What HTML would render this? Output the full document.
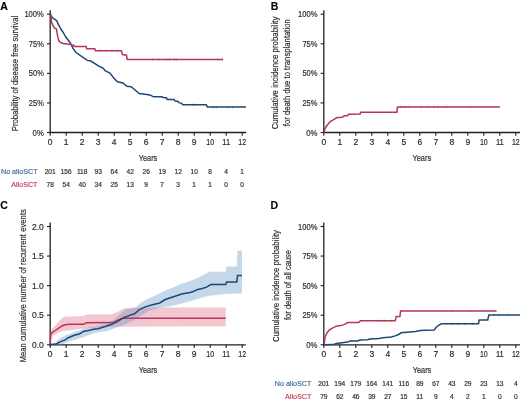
<!DOCTYPE html><html><head><meta charset="utf-8"><style>
html,body{margin:0;padding:0;background:#fff;width:520px;height:401px;overflow:hidden}
svg{display:block;will-change:transform}
text{font-family:"Liberation Sans",sans-serif;fill:#2a2a2a;stroke:#2a2a2a;stroke-width:0.18px}
.tk{font-size:8.5px}
.pl{font-size:10.5px;font-weight:bold;fill:#000}
.yr{font-size:9.2px}
.yt{font-size:9.3px}
.rt{font-size:6.6px;fill:#333}
.lb{font-size:7.3px}
</style></head><body>
<svg width="520" height="401" viewBox="0 0 520 401">
<text x="0.3" y="9.8" class="pl">A</text>
<text x="270.8" y="9.8" class="pl">B</text>
<text x="0.3" y="208.5" class="pl">C</text>
<text x="270.5" y="208.5" class="pl">D</text>
<line x1="50.2" y1="10.2" x2="50.2" y2="133.1" stroke="#231f20" stroke-width="1.3"/>
<line x1="49.6" y1="132.5" x2="246.2" y2="132.5" stroke="#231f20" stroke-width="1.3"/>
<line x1="47.0" y1="14.2" x2="50.2" y2="14.2" stroke="#231f20" stroke-width="1.1"/>
<line x1="47.0" y1="43.775" x2="50.2" y2="43.775" stroke="#231f20" stroke-width="1.1"/>
<line x1="47.0" y1="73.35" x2="50.2" y2="73.35" stroke="#231f20" stroke-width="1.1"/>
<line x1="47.0" y1="102.925" x2="50.2" y2="102.925" stroke="#231f20" stroke-width="1.1"/>
<line x1="47.0" y1="132.5" x2="50.2" y2="132.5" stroke="#231f20" stroke-width="1.1"/>
<line x1="50.2" y1="132.5" x2="50.2" y2="135.7" stroke="#231f20" stroke-width="1.1"/>
<text x="50.2" y="144.9" class="tk" text-anchor="middle">0</text>
<line x1="66.2" y1="132.5" x2="66.2" y2="135.7" stroke="#231f20" stroke-width="1.1"/>
<text x="66.2" y="144.9" class="tk" text-anchor="middle">1</text>
<line x1="82.2" y1="132.5" x2="82.2" y2="135.7" stroke="#231f20" stroke-width="1.1"/>
<text x="82.2" y="144.9" class="tk" text-anchor="middle">2</text>
<line x1="98.2" y1="132.5" x2="98.2" y2="135.7" stroke="#231f20" stroke-width="1.1"/>
<text x="98.2" y="144.9" class="tk" text-anchor="middle">3</text>
<line x1="114.2" y1="132.5" x2="114.2" y2="135.7" stroke="#231f20" stroke-width="1.1"/>
<text x="114.2" y="144.9" class="tk" text-anchor="middle">4</text>
<line x1="130.2" y1="132.5" x2="130.2" y2="135.7" stroke="#231f20" stroke-width="1.1"/>
<text x="130.2" y="144.9" class="tk" text-anchor="middle">5</text>
<line x1="146.2" y1="132.5" x2="146.2" y2="135.7" stroke="#231f20" stroke-width="1.1"/>
<text x="146.2" y="144.9" class="tk" text-anchor="middle">6</text>
<line x1="162.2" y1="132.5" x2="162.2" y2="135.7" stroke="#231f20" stroke-width="1.1"/>
<text x="162.2" y="144.9" class="tk" text-anchor="middle">7</text>
<line x1="178.2" y1="132.5" x2="178.2" y2="135.7" stroke="#231f20" stroke-width="1.1"/>
<text x="178.2" y="144.9" class="tk" text-anchor="middle">8</text>
<line x1="194.2" y1="132.5" x2="194.2" y2="135.7" stroke="#231f20" stroke-width="1.1"/>
<text x="194.2" y="144.9" class="tk" text-anchor="middle">9</text>
<line x1="210.2" y1="132.5" x2="210.2" y2="135.7" stroke="#231f20" stroke-width="1.1"/>
<text x="210.2" y="144.9" class="tk" text-anchor="middle" textLength="7.8" lengthAdjust="spacingAndGlyphs">10</text>
<line x1="226.2" y1="132.5" x2="226.2" y2="135.7" stroke="#231f20" stroke-width="1.1"/>
<text x="226.2" y="144.9" class="tk" text-anchor="middle" textLength="7.8" lengthAdjust="spacingAndGlyphs">11</text>
<line x1="242.2" y1="132.5" x2="242.2" y2="135.7" stroke="#231f20" stroke-width="1.1"/>
<text x="242.2" y="144.9" class="tk" text-anchor="middle" textLength="7.8" lengthAdjust="spacingAndGlyphs">12</text>
<text x="43.800000000000004" y="17.2" class="tk" text-anchor="end" textLength="19.4" lengthAdjust="spacingAndGlyphs">100%</text>
<text x="43.800000000000004" y="46.775" class="tk" text-anchor="end" textLength="15.0" lengthAdjust="spacingAndGlyphs">75%</text>
<text x="43.800000000000004" y="76.35" class="tk" text-anchor="end" textLength="15.0" lengthAdjust="spacingAndGlyphs">50%</text>
<text x="43.800000000000004" y="105.925" class="tk" text-anchor="end" textLength="15.0" lengthAdjust="spacingAndGlyphs">25%</text>
<text x="43.800000000000004" y="135.5" class="tk" text-anchor="end" textLength="11.2" lengthAdjust="spacingAndGlyphs">0%</text>
<line x1="323.8" y1="10.2" x2="323.8" y2="133.1" stroke="#231f20" stroke-width="1.3"/>
<line x1="323.2" y1="132.5" x2="520" y2="132.5" stroke="#231f20" stroke-width="1.3"/>
<line x1="320.6" y1="14.2" x2="323.8" y2="14.2" stroke="#231f20" stroke-width="1.1"/>
<line x1="320.6" y1="43.775" x2="323.8" y2="43.775" stroke="#231f20" stroke-width="1.1"/>
<line x1="320.6" y1="73.35" x2="323.8" y2="73.35" stroke="#231f20" stroke-width="1.1"/>
<line x1="320.6" y1="102.925" x2="323.8" y2="102.925" stroke="#231f20" stroke-width="1.1"/>
<line x1="320.6" y1="132.5" x2="323.8" y2="132.5" stroke="#231f20" stroke-width="1.1"/>
<line x1="323.8" y1="132.5" x2="323.8" y2="135.7" stroke="#231f20" stroke-width="1.1"/>
<text x="323.8" y="144.9" class="tk" text-anchor="middle">0</text>
<line x1="339.8" y1="132.5" x2="339.8" y2="135.7" stroke="#231f20" stroke-width="1.1"/>
<text x="339.8" y="144.9" class="tk" text-anchor="middle">1</text>
<line x1="355.8" y1="132.5" x2="355.8" y2="135.7" stroke="#231f20" stroke-width="1.1"/>
<text x="355.8" y="144.9" class="tk" text-anchor="middle">2</text>
<line x1="371.8" y1="132.5" x2="371.8" y2="135.7" stroke="#231f20" stroke-width="1.1"/>
<text x="371.8" y="144.9" class="tk" text-anchor="middle">3</text>
<line x1="387.8" y1="132.5" x2="387.8" y2="135.7" stroke="#231f20" stroke-width="1.1"/>
<text x="387.8" y="144.9" class="tk" text-anchor="middle">4</text>
<line x1="403.8" y1="132.5" x2="403.8" y2="135.7" stroke="#231f20" stroke-width="1.1"/>
<text x="403.8" y="144.9" class="tk" text-anchor="middle">5</text>
<line x1="419.8" y1="132.5" x2="419.8" y2="135.7" stroke="#231f20" stroke-width="1.1"/>
<text x="419.8" y="144.9" class="tk" text-anchor="middle">6</text>
<line x1="435.8" y1="132.5" x2="435.8" y2="135.7" stroke="#231f20" stroke-width="1.1"/>
<text x="435.8" y="144.9" class="tk" text-anchor="middle">7</text>
<line x1="451.8" y1="132.5" x2="451.8" y2="135.7" stroke="#231f20" stroke-width="1.1"/>
<text x="451.8" y="144.9" class="tk" text-anchor="middle">8</text>
<line x1="467.8" y1="132.5" x2="467.8" y2="135.7" stroke="#231f20" stroke-width="1.1"/>
<text x="467.8" y="144.9" class="tk" text-anchor="middle">9</text>
<line x1="483.8" y1="132.5" x2="483.8" y2="135.7" stroke="#231f20" stroke-width="1.1"/>
<text x="483.8" y="144.9" class="tk" text-anchor="middle" textLength="7.8" lengthAdjust="spacingAndGlyphs">10</text>
<line x1="499.8" y1="132.5" x2="499.8" y2="135.7" stroke="#231f20" stroke-width="1.1"/>
<text x="499.8" y="144.9" class="tk" text-anchor="middle" textLength="7.8" lengthAdjust="spacingAndGlyphs">11</text>
<line x1="515.8" y1="132.5" x2="515.8" y2="135.7" stroke="#231f20" stroke-width="1.1"/>
<text x="515.8" y="144.9" class="tk" text-anchor="middle" textLength="7.8" lengthAdjust="spacingAndGlyphs">12</text>
<text x="317.40000000000003" y="17.2" class="tk" text-anchor="end" textLength="19.4" lengthAdjust="spacingAndGlyphs">100%</text>
<text x="317.40000000000003" y="46.775" class="tk" text-anchor="end" textLength="15.0" lengthAdjust="spacingAndGlyphs">75%</text>
<text x="317.40000000000003" y="76.35" class="tk" text-anchor="end" textLength="15.0" lengthAdjust="spacingAndGlyphs">50%</text>
<text x="317.40000000000003" y="105.925" class="tk" text-anchor="end" textLength="15.0" lengthAdjust="spacingAndGlyphs">25%</text>
<text x="317.40000000000003" y="135.5" class="tk" text-anchor="end" textLength="11.2" lengthAdjust="spacingAndGlyphs">0%</text>
<line x1="50.2" y1="222.6" x2="50.2" y2="345.40000000000003" stroke="#231f20" stroke-width="1.3"/>
<line x1="49.6" y1="344.8" x2="245.8" y2="344.8" stroke="#231f20" stroke-width="1.3"/>
<line x1="47.0" y1="226.5" x2="50.2" y2="226.5" stroke="#231f20" stroke-width="1.1"/>
<line x1="47.0" y1="256.075" x2="50.2" y2="256.075" stroke="#231f20" stroke-width="1.1"/>
<line x1="47.0" y1="285.65" x2="50.2" y2="285.65" stroke="#231f20" stroke-width="1.1"/>
<line x1="47.0" y1="315.225" x2="50.2" y2="315.225" stroke="#231f20" stroke-width="1.1"/>
<line x1="47.0" y1="344.8" x2="50.2" y2="344.8" stroke="#231f20" stroke-width="1.1"/>
<line x1="50.2" y1="344.8" x2="50.2" y2="348.0" stroke="#231f20" stroke-width="1.1"/>
<text x="50.2" y="357.2" class="tk" text-anchor="middle">0</text>
<line x1="66.2" y1="344.8" x2="66.2" y2="348.0" stroke="#231f20" stroke-width="1.1"/>
<text x="66.2" y="357.2" class="tk" text-anchor="middle">1</text>
<line x1="82.2" y1="344.8" x2="82.2" y2="348.0" stroke="#231f20" stroke-width="1.1"/>
<text x="82.2" y="357.2" class="tk" text-anchor="middle">2</text>
<line x1="98.2" y1="344.8" x2="98.2" y2="348.0" stroke="#231f20" stroke-width="1.1"/>
<text x="98.2" y="357.2" class="tk" text-anchor="middle">3</text>
<line x1="114.2" y1="344.8" x2="114.2" y2="348.0" stroke="#231f20" stroke-width="1.1"/>
<text x="114.2" y="357.2" class="tk" text-anchor="middle">4</text>
<line x1="130.2" y1="344.8" x2="130.2" y2="348.0" stroke="#231f20" stroke-width="1.1"/>
<text x="130.2" y="357.2" class="tk" text-anchor="middle">5</text>
<line x1="146.2" y1="344.8" x2="146.2" y2="348.0" stroke="#231f20" stroke-width="1.1"/>
<text x="146.2" y="357.2" class="tk" text-anchor="middle">6</text>
<line x1="162.2" y1="344.8" x2="162.2" y2="348.0" stroke="#231f20" stroke-width="1.1"/>
<text x="162.2" y="357.2" class="tk" text-anchor="middle">7</text>
<line x1="178.2" y1="344.8" x2="178.2" y2="348.0" stroke="#231f20" stroke-width="1.1"/>
<text x="178.2" y="357.2" class="tk" text-anchor="middle">8</text>
<line x1="194.2" y1="344.8" x2="194.2" y2="348.0" stroke="#231f20" stroke-width="1.1"/>
<text x="194.2" y="357.2" class="tk" text-anchor="middle">9</text>
<line x1="210.2" y1="344.8" x2="210.2" y2="348.0" stroke="#231f20" stroke-width="1.1"/>
<text x="210.2" y="357.2" class="tk" text-anchor="middle" textLength="7.8" lengthAdjust="spacingAndGlyphs">10</text>
<line x1="226.2" y1="344.8" x2="226.2" y2="348.0" stroke="#231f20" stroke-width="1.1"/>
<text x="226.2" y="357.2" class="tk" text-anchor="middle" textLength="7.8" lengthAdjust="spacingAndGlyphs">11</text>
<line x1="242.2" y1="344.8" x2="242.2" y2="348.0" stroke="#231f20" stroke-width="1.1"/>
<text x="242.2" y="357.2" class="tk" text-anchor="middle" textLength="7.8" lengthAdjust="spacingAndGlyphs">12</text>
<text x="43.800000000000004" y="229.5" class="tk" text-anchor="end">2.0</text>
<text x="43.800000000000004" y="259.075" class="tk" text-anchor="end">1.5</text>
<text x="43.800000000000004" y="288.65" class="tk" text-anchor="end">1.0</text>
<text x="43.800000000000004" y="318.225" class="tk" text-anchor="end">0.5</text>
<text x="43.800000000000004" y="347.8" class="tk" text-anchor="end">0.0</text>
<line x1="323.8" y1="222.6" x2="323.8" y2="345.40000000000003" stroke="#231f20" stroke-width="1.3"/>
<line x1="323.2" y1="344.8" x2="520" y2="344.8" stroke="#231f20" stroke-width="1.3"/>
<line x1="320.6" y1="226.5" x2="323.8" y2="226.5" stroke="#231f20" stroke-width="1.1"/>
<line x1="320.6" y1="256.075" x2="323.8" y2="256.075" stroke="#231f20" stroke-width="1.1"/>
<line x1="320.6" y1="285.65" x2="323.8" y2="285.65" stroke="#231f20" stroke-width="1.1"/>
<line x1="320.6" y1="315.225" x2="323.8" y2="315.225" stroke="#231f20" stroke-width="1.1"/>
<line x1="320.6" y1="344.8" x2="323.8" y2="344.8" stroke="#231f20" stroke-width="1.1"/>
<line x1="323.8" y1="344.8" x2="323.8" y2="348.0" stroke="#231f20" stroke-width="1.1"/>
<text x="323.8" y="357.2" class="tk" text-anchor="middle">0</text>
<line x1="339.8" y1="344.8" x2="339.8" y2="348.0" stroke="#231f20" stroke-width="1.1"/>
<text x="339.8" y="357.2" class="tk" text-anchor="middle">1</text>
<line x1="355.8" y1="344.8" x2="355.8" y2="348.0" stroke="#231f20" stroke-width="1.1"/>
<text x="355.8" y="357.2" class="tk" text-anchor="middle">2</text>
<line x1="371.8" y1="344.8" x2="371.8" y2="348.0" stroke="#231f20" stroke-width="1.1"/>
<text x="371.8" y="357.2" class="tk" text-anchor="middle">3</text>
<line x1="387.8" y1="344.8" x2="387.8" y2="348.0" stroke="#231f20" stroke-width="1.1"/>
<text x="387.8" y="357.2" class="tk" text-anchor="middle">4</text>
<line x1="403.8" y1="344.8" x2="403.8" y2="348.0" stroke="#231f20" stroke-width="1.1"/>
<text x="403.8" y="357.2" class="tk" text-anchor="middle">5</text>
<line x1="419.8" y1="344.8" x2="419.8" y2="348.0" stroke="#231f20" stroke-width="1.1"/>
<text x="419.8" y="357.2" class="tk" text-anchor="middle">6</text>
<line x1="435.8" y1="344.8" x2="435.8" y2="348.0" stroke="#231f20" stroke-width="1.1"/>
<text x="435.8" y="357.2" class="tk" text-anchor="middle">7</text>
<line x1="451.8" y1="344.8" x2="451.8" y2="348.0" stroke="#231f20" stroke-width="1.1"/>
<text x="451.8" y="357.2" class="tk" text-anchor="middle">8</text>
<line x1="467.8" y1="344.8" x2="467.8" y2="348.0" stroke="#231f20" stroke-width="1.1"/>
<text x="467.8" y="357.2" class="tk" text-anchor="middle">9</text>
<line x1="483.8" y1="344.8" x2="483.8" y2="348.0" stroke="#231f20" stroke-width="1.1"/>
<text x="483.8" y="357.2" class="tk" text-anchor="middle" textLength="7.8" lengthAdjust="spacingAndGlyphs">10</text>
<line x1="499.8" y1="344.8" x2="499.8" y2="348.0" stroke="#231f20" stroke-width="1.1"/>
<text x="499.8" y="357.2" class="tk" text-anchor="middle" textLength="7.8" lengthAdjust="spacingAndGlyphs">11</text>
<line x1="515.8" y1="344.8" x2="515.8" y2="348.0" stroke="#231f20" stroke-width="1.1"/>
<text x="515.8" y="357.2" class="tk" text-anchor="middle" textLength="7.8" lengthAdjust="spacingAndGlyphs">12</text>
<text x="317.40000000000003" y="229.5" class="tk" text-anchor="end" textLength="19.4" lengthAdjust="spacingAndGlyphs">100%</text>
<text x="317.40000000000003" y="259.075" class="tk" text-anchor="end" textLength="15.0" lengthAdjust="spacingAndGlyphs">75%</text>
<text x="317.40000000000003" y="288.65" class="tk" text-anchor="end" textLength="15.0" lengthAdjust="spacingAndGlyphs">50%</text>
<text x="317.40000000000003" y="318.225" class="tk" text-anchor="end" textLength="15.0" lengthAdjust="spacingAndGlyphs">25%</text>
<text x="317.40000000000003" y="347.8" class="tk" text-anchor="end" textLength="11.2" lengthAdjust="spacingAndGlyphs">0%</text>
<text x="148" y="160.6" class="yr" text-anchor="middle" textLength="18.5" lengthAdjust="spacingAndGlyphs">Years</text>
<text x="421.8" y="160.6" class="yr" text-anchor="middle" textLength="18.5" lengthAdjust="spacingAndGlyphs">Years</text>
<text x="148" y="372.8" class="yr" text-anchor="middle" textLength="18.5" lengthAdjust="spacingAndGlyphs">Years</text>
<text x="422" y="372.8" class="yr" text-anchor="middle" textLength="18.5" lengthAdjust="spacingAndGlyphs">Years</text>
<text transform="translate(17.5,73.5) rotate(-90)" x="0" y="0" class="yt" text-anchor="middle" textLength="115.3" lengthAdjust="spacingAndGlyphs">Probability of disease free survival</text>
<text transform="translate(278.3,73.0) rotate(-90)" x="0" y="0" class="yt" text-anchor="middle" textLength="112.7" lengthAdjust="spacingAndGlyphs">Cumulative incidence probability</text>
<text transform="translate(289.5,72.7) rotate(-90)" x="0" y="0" class="yt" text-anchor="middle" textLength="107" lengthAdjust="spacingAndGlyphs">for death due to transplantation</text>
<text transform="translate(26.0,285.8) rotate(-90)" x="0" y="0" class="yt" text-anchor="middle" textLength="153.5" lengthAdjust="spacingAndGlyphs">Mean cumulative number of recurrent events</text>
<text transform="translate(279.0,286.0) rotate(-90)" x="0" y="0" class="yt" text-anchor="middle" textLength="112.0" lengthAdjust="spacingAndGlyphs">Cumulative incidence probability</text>
<text transform="translate(290.7,285.0) rotate(-90)" x="0" y="0" class="yt" text-anchor="middle" textLength="70" lengthAdjust="spacingAndGlyphs">for death of all cause</text>
<text x="37.5" y="173.8" class="lb" text-anchor="end" style="fill:#3f6d9b;stroke:#3f6d9b" textLength="36.5" lengthAdjust="spacingAndGlyphs">No alloSCT</text>
<text x="37.5" y="186.8" class="lb" text-anchor="end" style="fill:#c0415f;stroke:#c0415f" textLength="26.3" lengthAdjust="spacingAndGlyphs">AlloSCT</text>
<text x="50.2" y="173.8" class="rt" text-anchor="middle">201</text>
<text x="50.2" y="186.8" class="rt" text-anchor="middle">78</text>
<text x="66.2" y="173.8" class="rt" text-anchor="middle">156</text>
<text x="66.2" y="186.8" class="rt" text-anchor="middle">54</text>
<text x="82.2" y="173.8" class="rt" text-anchor="middle">118</text>
<text x="82.2" y="186.8" class="rt" text-anchor="middle">40</text>
<text x="98.2" y="173.8" class="rt" text-anchor="middle">93</text>
<text x="98.2" y="186.8" class="rt" text-anchor="middle">34</text>
<text x="114.2" y="173.8" class="rt" text-anchor="middle">64</text>
<text x="114.2" y="186.8" class="rt" text-anchor="middle">25</text>
<text x="130.2" y="173.8" class="rt" text-anchor="middle">42</text>
<text x="130.2" y="186.8" class="rt" text-anchor="middle">13</text>
<text x="146.2" y="173.8" class="rt" text-anchor="middle">26</text>
<text x="146.2" y="186.8" class="rt" text-anchor="middle">9</text>
<text x="162.2" y="173.8" class="rt" text-anchor="middle">19</text>
<text x="162.2" y="186.8" class="rt" text-anchor="middle">7</text>
<text x="178.2" y="173.8" class="rt" text-anchor="middle">12</text>
<text x="178.2" y="186.8" class="rt" text-anchor="middle">3</text>
<text x="194.2" y="173.8" class="rt" text-anchor="middle">10</text>
<text x="194.2" y="186.8" class="rt" text-anchor="middle">1</text>
<text x="210.2" y="173.8" class="rt" text-anchor="middle">8</text>
<text x="210.2" y="186.8" class="rt" text-anchor="middle">1</text>
<text x="226.2" y="173.8" class="rt" text-anchor="middle">4</text>
<text x="226.2" y="186.8" class="rt" text-anchor="middle">0</text>
<text x="242.2" y="173.8" class="rt" text-anchor="middle">1</text>
<text x="242.2" y="186.8" class="rt" text-anchor="middle">0</text>
<text x="311.3" y="386.2" class="lb" text-anchor="end" style="fill:#3f6d9b;stroke:#3f6d9b" textLength="36.5" lengthAdjust="spacingAndGlyphs">No alloSCT</text>
<text x="311.3" y="398.8" class="lb" text-anchor="end" style="fill:#c0415f;stroke:#c0415f" textLength="26.3" lengthAdjust="spacingAndGlyphs">AlloSCT</text>
<text x="323.8" y="386.2" class="rt" text-anchor="middle">201</text>
<text x="323.8" y="398.8" class="rt" text-anchor="middle">79</text>
<text x="339.8" y="386.2" class="rt" text-anchor="middle">194</text>
<text x="339.8" y="398.8" class="rt" text-anchor="middle">62</text>
<text x="355.8" y="386.2" class="rt" text-anchor="middle">179</text>
<text x="355.8" y="398.8" class="rt" text-anchor="middle">46</text>
<text x="371.8" y="386.2" class="rt" text-anchor="middle">164</text>
<text x="371.8" y="398.8" class="rt" text-anchor="middle">39</text>
<text x="387.8" y="386.2" class="rt" text-anchor="middle">141</text>
<text x="387.8" y="398.8" class="rt" text-anchor="middle">27</text>
<text x="403.8" y="386.2" class="rt" text-anchor="middle">116</text>
<text x="403.8" y="398.8" class="rt" text-anchor="middle">15</text>
<text x="419.8" y="386.2" class="rt" text-anchor="middle">89</text>
<text x="419.8" y="398.8" class="rt" text-anchor="middle">11</text>
<text x="435.8" y="386.2" class="rt" text-anchor="middle">67</text>
<text x="435.8" y="398.8" class="rt" text-anchor="middle">9</text>
<text x="451.8" y="386.2" class="rt" text-anchor="middle">43</text>
<text x="451.8" y="398.8" class="rt" text-anchor="middle">4</text>
<text x="467.8" y="386.2" class="rt" text-anchor="middle">29</text>
<text x="467.8" y="398.8" class="rt" text-anchor="middle">2</text>
<text x="483.8" y="386.2" class="rt" text-anchor="middle">23</text>
<text x="483.8" y="398.8" class="rt" text-anchor="middle">1</text>
<text x="499.8" y="386.2" class="rt" text-anchor="middle">13</text>
<text x="499.8" y="398.8" class="rt" text-anchor="middle">0</text>
<text x="515.8" y="386.2" class="rt" text-anchor="middle">4</text>
<text x="515.8" y="398.8" class="rt" text-anchor="middle">0</text>
<polyline points="50.4,14.2 51.1,15.6 52.5,17.8 55.2,19.6 57.0,21.0 57.9,23.7 59.7,26.8 61.5,30.0 63.3,32.7 65.1,35.8 66.9,38.5 68.7,40.8 70.5,43.4 72.0,46.1 73.0,48.5 75.8,52.3 81.5,56.3 87.3,60.4 90.8,61.0 98.8,66.1 103.4,68.4 105.0,70.6 110.0,73.0 113.7,78.0 117.5,81.8 123.0,83.0 126.8,86.2 131.2,86.8 135.0,90.0 139.3,93.6 144.9,94.3 149.9,94.9 153.6,96.8 161.9,96.8 163.1,97.5 166.5,97.7 167.1,99.4 174.0,99.4 175.2,101.1 178.1,101.4 179.2,102.9 181.5,103.1 182.7,104.8 206.3,104.8 207.5,107.1 246.0,107.1" fill="none" stroke="#1c4873" stroke-width="1.5" stroke-linejoin="miter"/>
<polyline points="50.4,14.2 51.1,15.6 51.4,21.9 52.9,25.5 54.7,28.2 56.5,29.1 57.0,32.7 57.9,37.2 58.8,40.8 60.6,42.5 63.3,43.4 66.9,43.9 69.6,44.3 72.0,45.0 73.5,45.2 74.6,46.5 86.1,46.5 86.7,48.8 94.8,48.8 95.4,50.8 121.3,50.8 122.5,54.6 126.5,55.2 127.2,59.4 223.0,59.4" fill="none" stroke="#b3365a" stroke-width="1.5" stroke-linejoin="miter"/>
<polyline points="324.1,132.4 324.3,131.5 325.0,128.6 326.5,125.9 328.4,123.7 330.2,121.5 333.2,119.9 337.0,117.6 341.4,117.6 344.4,115.8 347.4,115.8 348.6,114.3 352.0,114.3 360.1,114.0 360.6,112.2 396.9,112.2 397.5,106.9 500.0,106.9" fill="none" stroke="#b3365a" stroke-width="1.5" stroke-linejoin="miter"/>
<polygon points="50.4,338.0 51.6,329.3 55.2,325.7 60.0,320.3 63.6,316.7 83.9,316.1 86.3,314.6 111.8,314.3 119.0,311.2 123.7,308.2 135.0,307.4 225.7,307.4 225.7,326.2 113.0,326.7 98.0,327.5 81.5,328.7 71.9,329.9 62.4,331.1 57.6,332.9 52.8,335.9 50.6,341.3 50.4,344.8" fill="#dc5a75" fill-opacity="0.34" stroke="none"/>
<polygon points="50.3,344.8 54.0,343.1 60.0,338.3 65.9,335.3 71.9,332.9 79.1,330.5 83.9,328.7 89.9,326.9 95.0,326.5 107.0,323.7 114.2,319.5 120.1,314.2 126.0,309.5 135.0,308.0 140.5,303.0 148.7,298.2 157.0,294.7 165.2,290.6 173.5,287.2 181.7,283.7 190.0,281.0 198.7,277.5 209.2,271.8 225.8,271.8 226.6,266.5 236.8,266.5 237.5,250.8 242.0,250.8 242.0,293.2 225.8,294.1 209.2,295.8 198.7,298.5 190.0,301.3 181.7,303.5 173.5,305.5 165.0,307.0 157.0,308.5 149.0,311.0 141.0,315.5 135.0,319.5 125.0,324.4 115.4,327.9 107.0,330.9 95.0,332.7 83.9,337.1 71.9,340.7 60.0,344.9 50.3,344.8" fill="#5f93c2" fill-opacity="0.36" stroke="none"/>
<polyline points="50.3,344.8 50.6,335.9 51.0,333.5 52.8,332.1 55.2,330.5 58.8,328.1 62.4,325.7 65.9,324.5 71.9,324.3 83.9,324.3 86.3,322.7 113.0,322.6 117.8,320.1 122.5,318.3 225.7,318.3" fill="none" stroke="#b3365a" stroke-width="1.5" stroke-linejoin="miter"/>
<polyline points="50.3,344.6 56.4,344.0 60.0,341.9 64.7,340.1 68.3,337.7 74.3,335.3 79.1,334.1 83.9,331.3 88.7,330.5 93.5,329.3 98.0,328.7 104.6,326.7 111.8,324.3 117.8,321.3 123.7,317.7 129.7,315.4 135.0,313.5 139.1,309.8 144.6,307.1 151.5,305.0 159.7,303.0 165.2,299.5 173.5,296.8 181.7,294.0 190.0,292.4 193.5,291.5 197.0,289.7 202.2,288.5 206.6,287.1 210.9,284.5 225.8,284.5 226.6,281.9 236.8,281.9 237.5,275.4 242.0,275.4" fill="none" stroke="#1c4873" stroke-width="1.5" stroke-linejoin="miter"/>
<polyline points="324.0,344.6 324.3,343.6 325.0,337.4 326.9,333.0 329.4,329.9 332.5,328.1 336.2,326.2 340.6,325.6 343.1,324.9 346.2,323.7 347.4,322.6 358.7,322.6 360.5,320.8 395.2,320.8 396.3,316.4 399.9,316.4 400.6,311.1 496.6,311.1" fill="none" stroke="#b3365a" stroke-width="1.5" stroke-linejoin="miter"/>
<polyline points="323.7,344.8 333.7,344.6 336.2,343.6 338.5,343.2 347.4,342.1 350.0,341.1 357.4,341.0 360.0,340.0 367.4,339.8 370.0,339.0 379.0,338.4 383.1,337.7 391.2,337.0 395.2,335.9 398.6,334.5 401.2,332.8 410.0,332.0 415.4,331.4 420.8,330.6 425.0,330.3 434.2,330.0 436.2,327.2 438.9,325.2 441.5,323.8 478.5,323.8 479.2,320.0 487.7,320.0 488.9,314.9 520.0,314.9" fill="none" stroke="#1c4873" stroke-width="1.5" stroke-linejoin="miter"/>
<line x1="100" y1="49.599999999999994" x2="100" y2="52.0" stroke="#b3365a" stroke-width="0.7" stroke-opacity="0.7"/>
<line x1="106" y1="49.599999999999994" x2="106" y2="52.0" stroke="#b3365a" stroke-width="0.7" stroke-opacity="0.7"/>
<line x1="112" y1="49.599999999999994" x2="112" y2="52.0" stroke="#b3365a" stroke-width="0.7" stroke-opacity="0.7"/>
<line x1="117" y1="49.599999999999994" x2="117" y2="52.0" stroke="#b3365a" stroke-width="0.7" stroke-opacity="0.7"/>
<line x1="152.3" y1="58.199999999999996" x2="152.3" y2="60.6" stroke="#b3365a" stroke-width="0.7" stroke-opacity="0.7"/>
<line x1="158.5" y1="58.199999999999996" x2="158.5" y2="60.6" stroke="#b3365a" stroke-width="0.7" stroke-opacity="0.7"/>
<line x1="166.2" y1="58.199999999999996" x2="166.2" y2="60.6" stroke="#b3365a" stroke-width="0.7" stroke-opacity="0.7"/>
<line x1="169.2" y1="58.199999999999996" x2="169.2" y2="60.6" stroke="#b3365a" stroke-width="0.7" stroke-opacity="0.7"/>
<line x1="174.3" y1="58.199999999999996" x2="174.3" y2="60.6" stroke="#b3365a" stroke-width="0.7" stroke-opacity="0.7"/>
<line x1="176.5" y1="58.199999999999996" x2="176.5" y2="60.6" stroke="#b3365a" stroke-width="0.7" stroke-opacity="0.7"/>
<line x1="217.7" y1="58.199999999999996" x2="217.7" y2="60.6" stroke="#b3365a" stroke-width="0.7" stroke-opacity="0.7"/>
<line x1="222.6" y1="58.199999999999996" x2="222.6" y2="60.6" stroke="#b3365a" stroke-width="0.7" stroke-opacity="0.7"/>
<line x1="192.1" y1="103.6" x2="192.1" y2="106.0" stroke="#1c4873" stroke-width="0.7" stroke-opacity="0.7"/>
<line x1="195.5" y1="103.6" x2="195.5" y2="106.0" stroke="#1c4873" stroke-width="0.7" stroke-opacity="0.7"/>
<line x1="213" y1="105.89999999999999" x2="213" y2="108.3" stroke="#1c4873" stroke-width="0.7" stroke-opacity="0.7"/>
<line x1="216.3" y1="105.89999999999999" x2="216.3" y2="108.3" stroke="#1c4873" stroke-width="0.7" stroke-opacity="0.7"/>
<line x1="227.8" y1="105.89999999999999" x2="227.8" y2="108.3" stroke="#1c4873" stroke-width="0.7" stroke-opacity="0.7"/>
<line x1="232.5" y1="105.89999999999999" x2="232.5" y2="108.3" stroke="#1c4873" stroke-width="0.7" stroke-opacity="0.7"/>
<line x1="400.3" y1="105.7" x2="400.3" y2="108.10000000000001" stroke="#b3365a" stroke-width="0.7" stroke-opacity="0.7"/>
<line x1="402.4" y1="105.7" x2="402.4" y2="108.10000000000001" stroke="#b3365a" stroke-width="0.7" stroke-opacity="0.7"/>
<line x1="405.6" y1="105.7" x2="405.6" y2="108.10000000000001" stroke="#b3365a" stroke-width="0.7" stroke-opacity="0.7"/>
<line x1="409.4" y1="105.7" x2="409.4" y2="108.10000000000001" stroke="#b3365a" stroke-width="0.7" stroke-opacity="0.7"/>
<line x1="421.4" y1="105.7" x2="421.4" y2="108.10000000000001" stroke="#b3365a" stroke-width="0.7" stroke-opacity="0.7"/>
<line x1="427.8" y1="105.7" x2="427.8" y2="108.10000000000001" stroke="#b3365a" stroke-width="0.7" stroke-opacity="0.7"/>
<line x1="434.1" y1="105.7" x2="434.1" y2="108.10000000000001" stroke="#b3365a" stroke-width="0.7" stroke-opacity="0.7"/>
<line x1="438.3" y1="105.7" x2="438.3" y2="108.10000000000001" stroke="#b3365a" stroke-width="0.7" stroke-opacity="0.7"/>
<line x1="444.7" y1="105.7" x2="444.7" y2="108.10000000000001" stroke="#b3365a" stroke-width="0.7" stroke-opacity="0.7"/>
<line x1="446.8" y1="105.7" x2="446.8" y2="108.10000000000001" stroke="#b3365a" stroke-width="0.7" stroke-opacity="0.7"/>
<line x1="470" y1="105.7" x2="470" y2="108.10000000000001" stroke="#b3365a" stroke-width="0.7" stroke-opacity="0.7"/>
<line x1="378" y1="319.6" x2="378" y2="322.0" stroke="#b3365a" stroke-width="0.7" stroke-opacity="0.7"/>
<line x1="384" y1="319.6" x2="384" y2="322.0" stroke="#b3365a" stroke-width="0.7" stroke-opacity="0.7"/>
<line x1="391" y1="319.6" x2="391" y2="322.0" stroke="#b3365a" stroke-width="0.7" stroke-opacity="0.7"/>
<line x1="445" y1="309.90000000000003" x2="445" y2="312.3" stroke="#b3365a" stroke-width="0.7" stroke-opacity="0.7"/>
<line x1="452" y1="309.90000000000003" x2="452" y2="312.3" stroke="#b3365a" stroke-width="0.7" stroke-opacity="0.7"/>
<line x1="470" y1="309.90000000000003" x2="470" y2="312.3" stroke="#b3365a" stroke-width="0.7" stroke-opacity="0.7"/>
<line x1="488" y1="309.90000000000003" x2="488" y2="312.3" stroke="#b3365a" stroke-width="0.7" stroke-opacity="0.7"/>
<line x1="446" y1="322.6" x2="446" y2="325.0" stroke="#1c4873" stroke-width="0.7" stroke-opacity="0.7"/>
<line x1="452" y1="322.6" x2="452" y2="325.0" stroke="#1c4873" stroke-width="0.7" stroke-opacity="0.7"/>
<line x1="458" y1="322.6" x2="458" y2="325.0" stroke="#1c4873" stroke-width="0.7" stroke-opacity="0.7"/>
<line x1="465" y1="322.6" x2="465" y2="325.0" stroke="#1c4873" stroke-width="0.7" stroke-opacity="0.7"/>
<line x1="473" y1="322.6" x2="473" y2="325.0" stroke="#1c4873" stroke-width="0.7" stroke-opacity="0.7"/>
<line x1="494" y1="313.7" x2="494" y2="316.09999999999997" stroke="#1c4873" stroke-width="0.7" stroke-opacity="0.7"/>
<line x1="499" y1="313.7" x2="499" y2="316.09999999999997" stroke="#1c4873" stroke-width="0.7" stroke-opacity="0.7"/>
<line x1="508" y1="313.7" x2="508" y2="316.09999999999997" stroke="#1c4873" stroke-width="0.7" stroke-opacity="0.7"/>
</svg></body></html>
